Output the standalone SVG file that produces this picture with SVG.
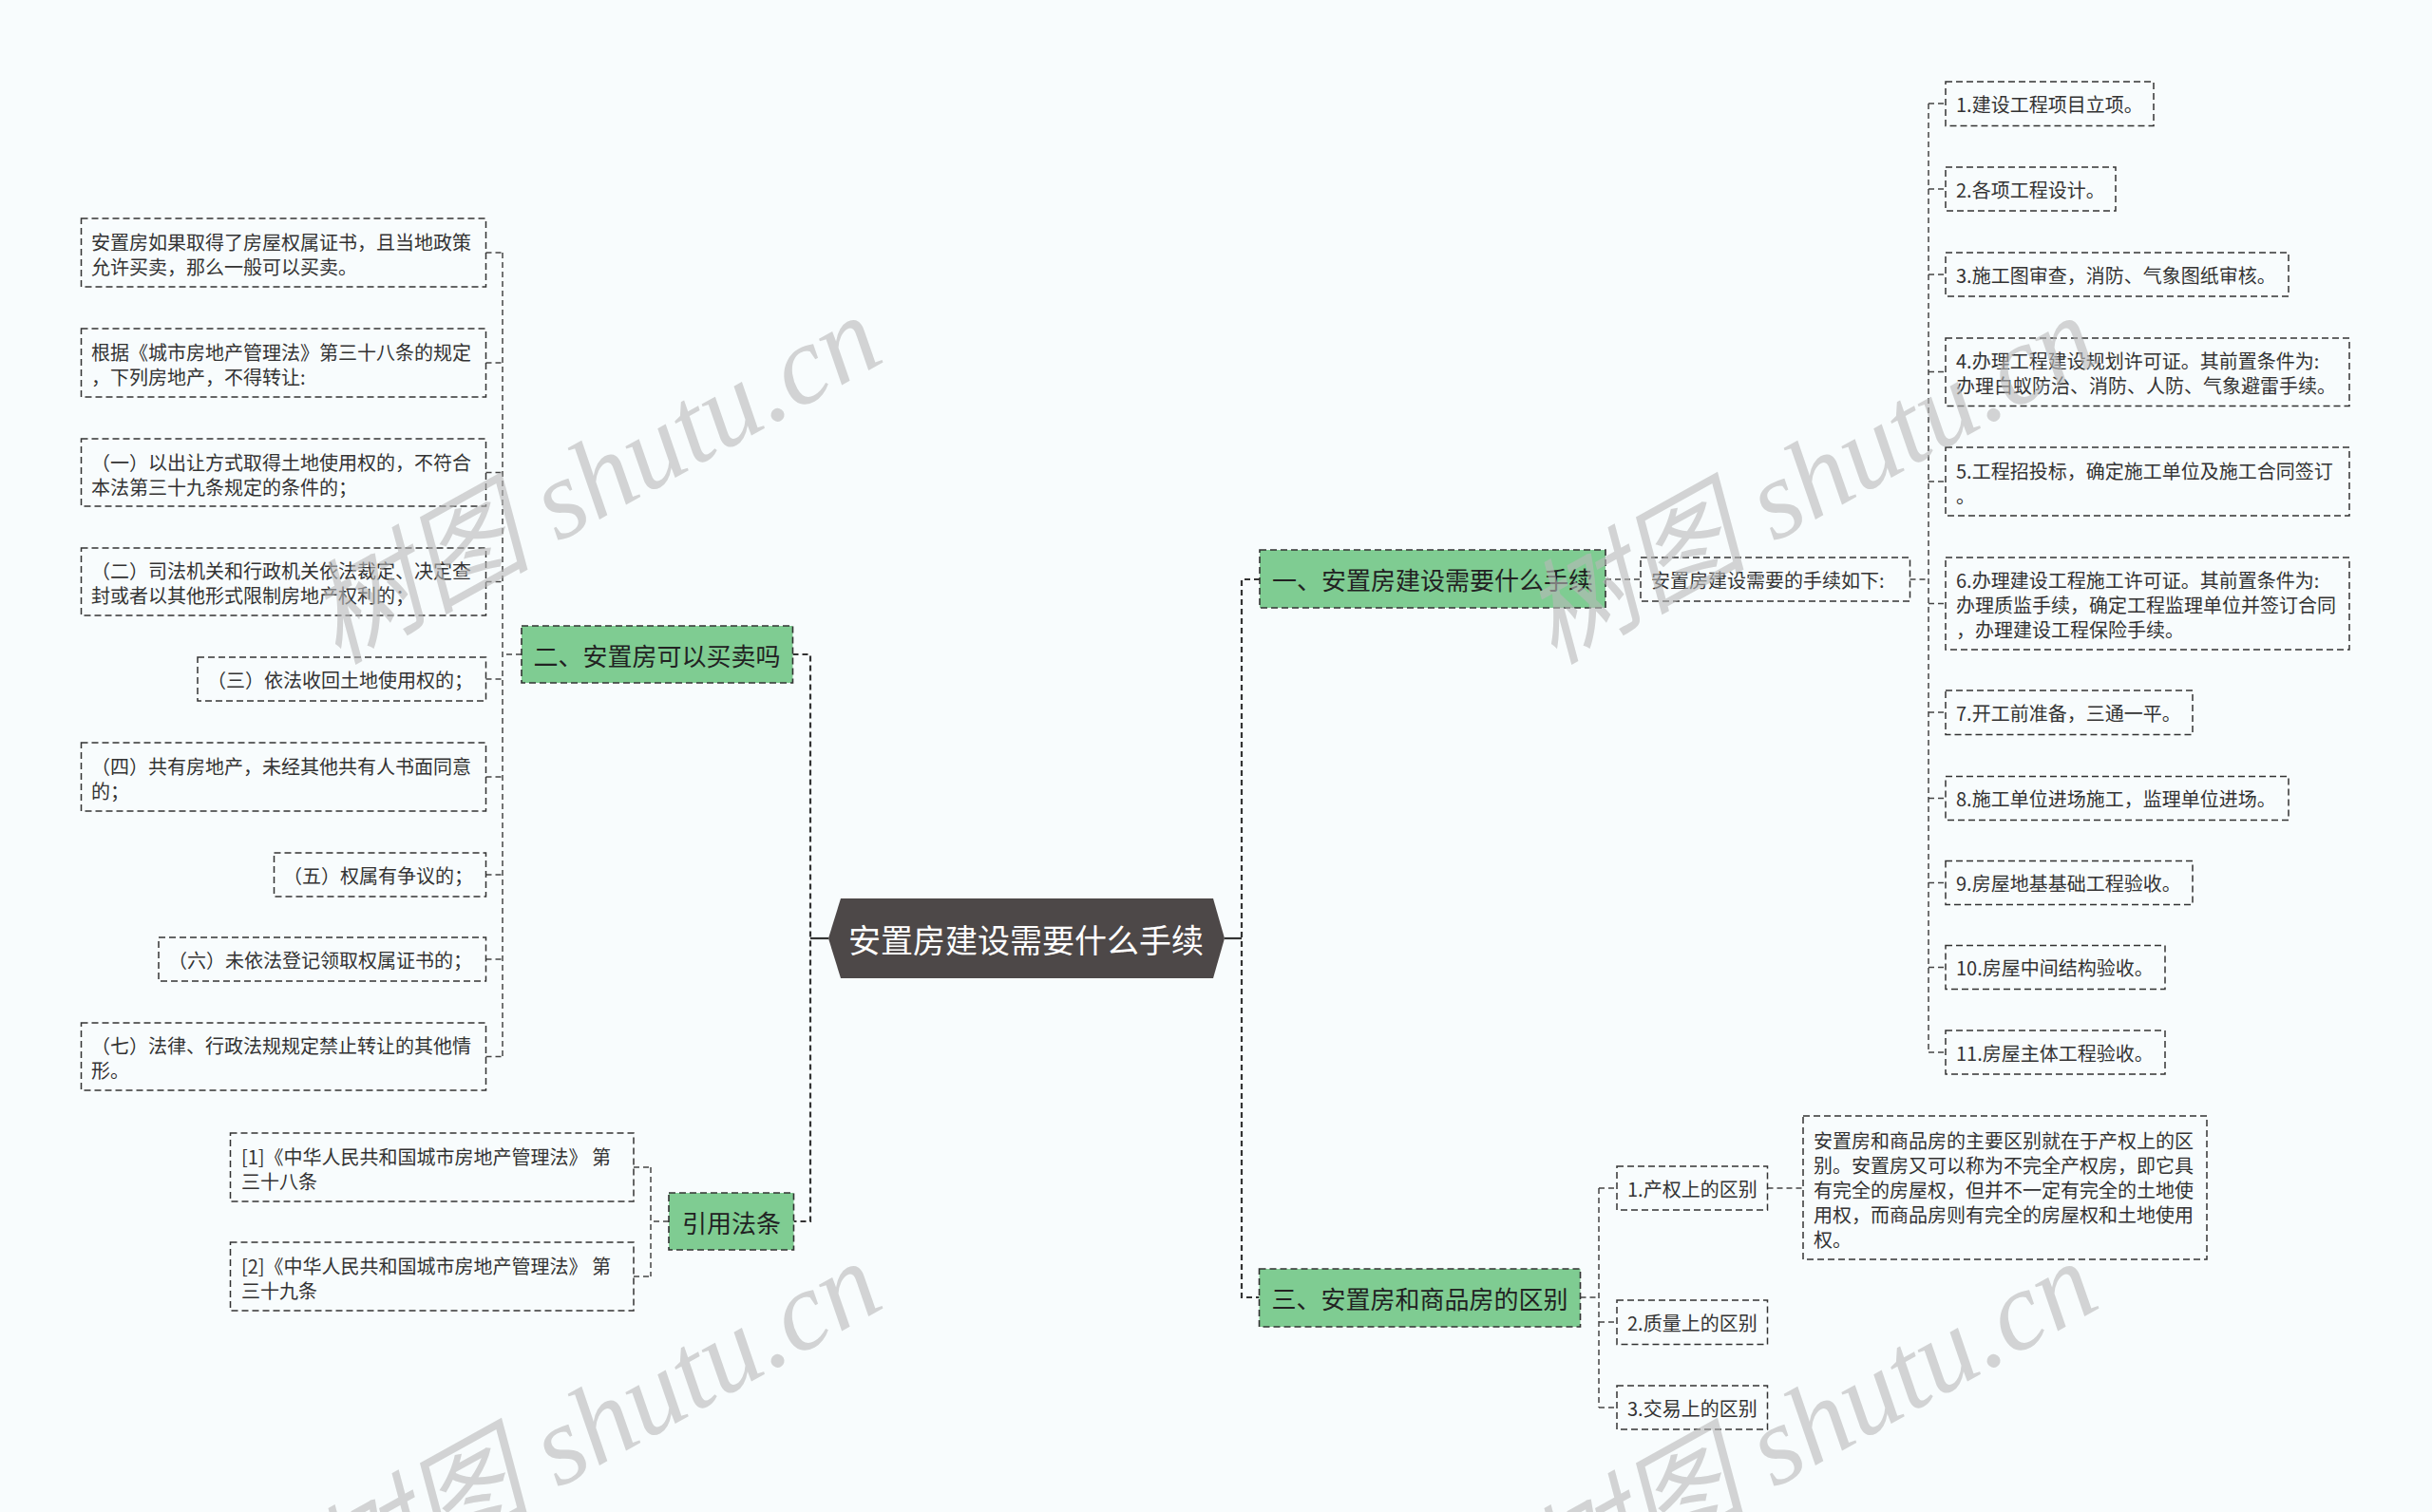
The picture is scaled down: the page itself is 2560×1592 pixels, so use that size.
<svg xmlns="http://www.w3.org/2000/svg" width="2560" height="1592" viewBox="0 0 2560 1592">
<style>
.bg{fill:#f8fcfd}
.box{fill:none;stroke:#333;stroke-width:1.5;stroke-dasharray:7 4}
.green{fill:#7fcc92;stroke:#333;stroke-width:1.6;stroke-dasharray:7 4}
.t{font-family:"Noto Sans CJK SC","Liberation Sans",sans-serif;font-size:20px;fill:#333;dominant-baseline:central}
.tg{font-family:"Noto Sans CJK SC","Liberation Sans",sans-serif;font-size:26px;fill:#222;dominant-baseline:central;text-anchor:middle}
.tc{font-family:"Noto Sans CJK SC","Liberation Sans",sans-serif;font-size:34px;fill:#fff;dominant-baseline:central;text-anchor:middle}
.main{fill:none;stroke:#333;stroke-width:2.2;stroke-dasharray:6 4}
.solid{fill:none;stroke:#333;stroke-width:2.2}
.link{fill:none;stroke:#444;stroke-width:1.5;stroke-dasharray:6 4}
.wm{font-family:"Liberation Serif","Noto Sans CJK SC",serif;font-style:italic;font-size:118px;fill:#b9b9b9;opacity:0.6}
</style>
<rect class="bg" x="0" y="0" width="2560" height="1592"/>

<g id="connectors">
  <path class="main" d="M834.5,689 H853 V1286 H835.5"/>
  <path class="solid" d="M853,988 H872"/>
  <path class="main" d="M1326,610 H1307 V1366 H1325.5"/>
  <path class="solid" d="M1289,988 H1307"/>
  <path class="link" d="M549,689 H529 M529,266 V1112.5 M511.5,266 H529 M511.5,382 H529 M511.5,497.5 H529 M511.5,612.5 H529 M511.5,715 H529 M511.5,818 H529 M511.5,921 H529 M511.5,1010 H529 M511.5,1112.5 H529"/>
  <path class="link" d="M704,1286 H685 M685,1229 V1344 M667,1229 H685 M667,1344 H685"/>
  <path class="link" d="M1690,610 H1727"/>
  <path class="link" d="M2010.5,610 H2030 M2030,109 V1108 M2030,109 H2048 M2030,199 H2048 M2030,289 H2048 M2030,391.5 H2048 M2030,507 H2048 M2030,635.5 H2048 M2030,750 H2048 M2030,840.5 H2048 M2030,929.5 H2048 M2030,1018.5 H2048 M2030,1108 H2048"/>
  <path class="link" d="M1663.5,1366 H1683 M1683,1251 V1482 M1683,1251 H1702 M1683,1392 H1702 M1683,1482 H1702"/>
  <path class="link" d="M1860.5,1251 H1898"/>
</g>

<g id="center">
  <polygon points="872,988 885,946 1277,946 1289,988 1277,1030 885,1030" fill="#4d4848"/>
  <text class="tc" x="1080" y="988">安置房建设需要什么手续</text>
</g>

<g id="n2">
  <rect class="green" x="549" y="659" width="285.5" height="60"/>
  <text class="tg" x="691.5" y="689">二、安置房可以买卖吗</text>
</g>
<g id="n2a"><rect class="box" x="85.5" y="230" width="426" height="72"/>
  <text class="t" x="96" y="254">安置房如果取得了房屋权属证书，且当地政策</text>
  <text class="t" x="96" y="280">允许买卖，那么一般可以买卖。</text></g>
<g id="n2b"><rect class="box" x="85.5" y="346" width="426" height="72"/>
  <text class="t" x="96" y="370">根据《城市房地产管理法》第三十八条的规定</text>
  <text class="t" x="96" y="396">，下列房地产，不得转让:</text></g>
<g id="n2c"><rect class="box" x="85.5" y="462" width="426" height="71"/>
  <text class="t" x="96" y="486">（一）以出让方式取得土地使用权的，不符合</text>
  <text class="t" x="96" y="512">本法第三十九条规定的条件的；</text></g>
<g id="n2d"><rect class="box" x="85.5" y="577" width="426" height="71"/>
  <text class="t" x="96" y="600">（二）司法机关和行政机关依法裁定、决定查</text>
  <text class="t" x="96" y="626">封或者以其他形式限制房地产权利的；</text></g>
<g id="n2e"><rect class="box" x="208" y="692" width="303.5" height="46"/>
  <text class="t" x="218" y="715">（三）依法收回土地使用权的；</text></g>
<g id="n2f"><rect class="box" x="85.5" y="782" width="426" height="72"/>
  <text class="t" x="96" y="806">（四）共有房地产，未经其他共有人书面同意</text>
  <text class="t" x="96" y="832">的；</text></g>
<g id="n2g"><rect class="box" x="288.5" y="898" width="223" height="46"/>
  <text class="t" x="298" y="921">（五）权属有争议的；</text></g>
<g id="n2h"><rect class="box" x="167" y="987" width="344.5" height="46"/>
  <text class="t" x="177" y="1010">（六）未依法登记领取权属证书的；</text></g>
<g id="n2i"><rect class="box" x="85.5" y="1077" width="426" height="71"/>
  <text class="t" x="96" y="1100">（七）法律、行政法规规定禁止转让的其他情</text>
  <text class="t" x="96" y="1126">形。</text></g>

<g id="nref">
  <rect class="green" x="704" y="1256" width="131.5" height="60"/>
  <text class="tg" x="770" y="1286">引用法条</text>
</g>
<g id="nref1"><rect class="box" x="242.5" y="1193" width="424.5" height="72"/>
  <text class="t" x="254" y="1217">[1]《中华人民共和国城市房地产管理法》 第</text>
  <text class="t" x="254" y="1243">三十八条</text></g>
<g id="nref2"><rect class="box" x="242.5" y="1308" width="424.5" height="72"/>
  <text class="t" x="254" y="1332">[2]《中华人民共和国城市房地产管理法》 第</text>
  <text class="t" x="254" y="1358">三十九条</text></g>

<g id="n1">
  <rect class="green" x="1326" y="579" width="364" height="61"/>
  <text class="tg" x="1508" y="609.5">一、安置房建设需要什么手续</text>
</g>
<g id="n1a"><rect class="box" x="1727" y="587" width="283.5" height="46"/>
  <text class="t" x="1738" y="610">安置房建设需要的手续如下:</text></g>
<g id="s1"><rect class="box" x="2048" y="86" width="219" height="46.5"/><text class="t" x="2059" y="109">1.建设工程项目立项。</text></g>
<g id="s2"><rect class="box" x="2048" y="176" width="179" height="46"/><text class="t" x="2059" y="199">2.各项工程设计。</text></g>
<g id="s3"><rect class="box" x="2048" y="266" width="361" height="46"/><text class="t" x="2059" y="289">3.施工图审查，消防、气象图纸审核。</text></g>
<g id="s4"><rect class="box" x="2048" y="356" width="425" height="71.5"/>
  <text class="t" x="2059" y="379.5">4.办理工程建设规划许可证。其前置条件为:</text>
  <text class="t" x="2059" y="405.5">办理白蚁防治、消防、人防、气象避雷手续。</text></g>
<g id="s5"><rect class="box" x="2048" y="471" width="425" height="72"/>
  <text class="t" x="2059" y="495">5.工程招投标，确定施工单位及施工合同签订</text>
  <text class="t" x="2059" y="521">。</text></g>
<g id="s6"><rect class="box" x="2048" y="587" width="425" height="97"/>
  <text class="t" x="2059" y="610">6.办理建设工程施工许可证。其前置条件为:</text>
  <text class="t" x="2059" y="636">办理质监手续，确定工程监理单位并签订合同</text>
  <text class="t" x="2059" y="662">，办理建设工程保险手续。</text></g>
<g id="s7"><rect class="box" x="2048" y="727" width="260" height="46.5"/><text class="t" x="2059" y="750">7.开工前准备，三通一平。</text></g>
<g id="s8"><rect class="box" x="2048" y="817.5" width="361" height="46"/><text class="t" x="2059" y="840.5">8.施工单位进场施工，监理单位进场。</text></g>
<g id="s9"><rect class="box" x="2048" y="906.5" width="260" height="46"/><text class="t" x="2059" y="929.5">9.房屋地基基础工程验收。</text></g>
<g id="s10"><rect class="box" x="2048" y="995.5" width="231" height="46"/><text class="t" x="2059" y="1018.5">10.房屋中间结构验收。</text></g>
<g id="s11"><rect class="box" x="2048" y="1085" width="231" height="46"/><text class="t" x="2059" y="1108">11.房屋主体工程验收。</text></g>

<g id="n3">
  <rect class="green" x="1325.5" y="1336" width="338" height="61"/>
  <text class="tg" x="1494.5" y="1366">三、安置房和商品房的区别</text>
</g>
<g id="n3a"><rect class="box" x="1702" y="1228" width="158.5" height="46"/><text class="t" x="1713" y="1251">1.产权上的区别</text></g>
<g id="n3a1"><rect class="box" x="1898" y="1175" width="425" height="151"/>
  <text class="t" x="1909" y="1200">安置房和商品房的主要区别就在于产权上的区</text>
  <text class="t" x="1909" y="1226">别。安置房又可以称为不完全产权房，即它具</text>
  <text class="t" x="1909" y="1252">有完全的房屋权，但并不一定有完全的土地使</text>
  <text class="t" x="1909" y="1278">用权，而商品房则有完全的房屋权和土地使用</text>
  <text class="t" x="1909" y="1304">权。</text></g>
<g id="n3b"><rect class="box" x="1702" y="1369" width="158.5" height="46.5"/><text class="t" x="1713" y="1392">2.质量上的区别</text></g>
<g id="n3c"><rect class="box" x="1702" y="1459" width="158.5" height="46"/><text class="t" x="1713" y="1482">3.交易上的区别</text></g>

<g id="watermarks">
  <text class="wm" transform="translate(355,700) rotate(-29)">树图 shutu.cn</text>
  <text class="wm" transform="translate(1635,700) rotate(-29)">树图 shutu.cn</text>
  <text class="wm" transform="translate(355,1696) rotate(-29)">树图 shutu.cn</text>
  <text class="wm" transform="translate(1635,1696) rotate(-29)">树图 shutu.cn</text>
</g>
</svg>
